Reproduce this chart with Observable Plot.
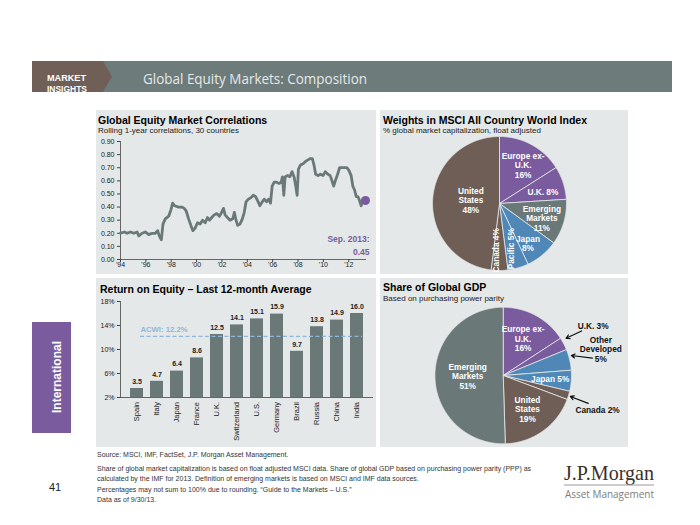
<!DOCTYPE html>
<html><head><meta charset="utf-8">
<script src="https://cdn.jsdelivr.net/npm/d3@7"></script>
<script src="https://cdn.jsdelivr.net/npm/@observablehq/plot@0.6"></script>
<style>
html,body{margin:0;padding:0;background:#fff;}
#page{position:relative;width:700px;height:525px;overflow:hidden;font-family:"Liberation Sans",Arial,sans-serif;}
.abs{position:absolute;}
.abs svg{overflow:visible;}
</style></head><body><div id="page">
<svg id="bg" width="700" height="525" style="position:absolute;left:0;top:0" font-family="Liberation Sans, Arial, sans-serif">
  <rect x="32" y="61" width="640" height="31" fill="#6e7b7b"/>
  <polygon points="32,61 103,61 112,76.5 103,92 32,92" fill="#6f5f56"/>
  <text x="47" y="80.5" font-weight="700" font-size="9" fill="#fff" textLength="39" lengthAdjust="spacingAndGlyphs">MARKET</text>
  <text x="47" y="91.5" font-weight="700" font-size="9" fill="#fff" textLength="40" lengthAdjust="spacingAndGlyphs">INSIGHTS</text>
  <text x="143" y="83.5" font-family="Open Sans" font-size="14.5" fill="#e4e9e9" textLength="224" lengthAdjust="spacingAndGlyphs">Global Equity Markets: Composition</text>

  <rect x="96" y="110" width="280" height="164" fill="#e4e8e8"/>
  <rect x="380" y="110" width="248" height="164" fill="#e4e8e8"/>
  <rect x="96" y="278" width="280" height="169" fill="#e4e8e8"/>
  <rect x="380" y="278" width="248" height="169" fill="#e4e8e8"/>

  <text x="98" y="124" font-weight="700" font-size="10.5" fill="#000">Global Equity Market Correlations</text>
  <text x="98" y="132.5" font-size="8" fill="#222">Rolling 1-year correlations, 30 countries</text>
  <text x="383" y="123.5" font-weight="700" font-size="10.5" fill="#000">Weights in MSCI All Country World Index</text>
  <text x="383" y="132.5" font-size="8" fill="#222">% global market capitalization, float adjusted</text>
  <text x="100" y="292.5" font-weight="700" font-size="10.5" fill="#000">Return on Equity – Last 12-month Average</text>
  <text x="383" y="290.5" font-weight="700" font-size="10.5" fill="#000">Share of Global GDP</text>
  <text x="383" y="300.5" font-size="8" fill="#222">Based on purchasing power parity</text>

  <rect x="32" y="322" width="39" height="111" fill="#7a5c9e"/>
  <text transform="translate(61,377) rotate(-90)" text-anchor="middle" font-weight="700" font-size="12" fill="#fff">International</text>
  <text x="49" y="491" font-size="11" fill="#222">41</text>

  <g font-size="7" fill="#333">
    <text x="97" y="457">Source: MSCI, IMF, FactSet, J.P. Morgan Asset Management.</text>
    <text x="97" y="470.5">Share of global market capitalization is based on float adjusted MSCI data. Share of global GDP based on purchasing power parity (PPP) as</text>
    <text x="97" y="481">calculated by the IMF for 2013. Definition of emerging markets is based on MSCI and IMF data sources.</text>
    <text x="97" y="491.5">Percentages may not sum to 100% due to rounding. “Guide to the Markets – U.S.”</text>
    <text x="97" y="502">Data as of 9/30/13.</text>
  </g>
  <text x="564" y="480" font-family="Liberation Serif, serif" font-size="22" fill="#3a302b" textLength="90" lengthAdjust="spacingAndGlyphs">J.P.Morgan</text>
  <line x1="564" x2="654" y1="485" y2="485" stroke="#9a9a9a" stroke-width="1"/>
  <text x="565" y="497.5" font-family="Open Sans" font-size="11" fill="#7d7d7d" textLength="89" lengthAdjust="spacingAndGlyphs">Asset Management</text>
</svg>
<div id="corr" class="abs" style="left:96px;top:135px"></div>
<div id="msci" class="abs" style="left:380px;top:135px"></div>
<div id="roe" class="abs" style="left:96px;top:296px"></div>
<div id="gdp" class="abs" style="left:380px;top:305px"></div>
</div>
<script>
// ---------- DATA ----------
const corrYears = [1994.00,1994.30,1994.52,1994.79,1995.05,1995.31,1995.44,1995.70,1995.96,1996.23,1996.49,1996.75,1996.93,1997.06,1997.22,1997.35,1997.53,1997.80,1997.98,1998.11,1998.27,1998.58,1998.84,1999.03,1999.18,1999.37,1999.55,1999.71,1999.89,2000.07,2000.28,2000.47,2000.68,2000.86,2001.02,2001.20,2001.38,2001.59,2001.80,2001.98,2002.12,2002.25,2002.43,2002.64,2002.85,2002.98,2003.11,2003.24,2003.42,2003.61,2003.76,2003.90,2004.08,2004.26,2004.47,2004.65,2004.81,2004.99,2005.18,2005.34,2005.52,2005.68,2005.83,2005.96,2006.12,2006.30,2006.51,2006.67,2006.77,2006.88,2006.98,2007.17,2007.35,2007.53,2007.69,2007.82,2007.93,2008.03,2008.19,2008.40,2008.61,2008.79,2008.97,2009.13,2009.26,2009.39,2009.58,2009.76,2009.97,2010.15,2010.36,2010.54,2010.68,2010.81,2010.94,2011.09,2011.28,2011.49,2011.67,2011.85,2012.01,2012.19,2012.32,2012.46,2012.59,2012.72,2012.85,2012.98,2013.11,2013.24,2013.32];
const corrValues = [0.20,0.21,0.20,0.21,0.20,0.21,0.18,0.20,0.21,0.19,0.20,0.20,0.22,0.18,0.15,0.27,0.31,0.33,0.38,0.43,0.41,0.40,0.40,0.39,0.37,0.31,0.26,0.22,0.24,0.28,0.27,0.30,0.28,0.32,0.30,0.32,0.34,0.35,0.33,0.36,0.39,0.34,0.32,0.30,0.31,0.36,0.30,0.26,0.27,0.31,0.36,0.44,0.46,0.47,0.49,0.48,0.45,0.41,0.44,0.46,0.44,0.46,0.43,0.56,0.59,0.59,0.58,0.59,0.63,0.49,0.63,0.64,0.63,0.67,0.63,0.56,0.49,0.69,0.72,0.73,0.75,0.76,0.77,0.77,0.72,0.65,0.64,0.65,0.64,0.67,0.65,0.64,0.60,0.56,0.60,0.64,0.70,0.70,0.70,0.70,0.68,0.64,0.56,0.53,0.48,0.48,0.45,0.41,0.46,0.45,0.45];
const corrTickYears = [1994,1996,1998,2000,2002,2004,2006,2008,2010,2012];
const corrYTicks = [0,0.1,0.2,0.3,0.4,0.5,0.6,0.7,0.8,0.9];
const corrNote = "Sep. 2013:";

const msciNames = ["Europe ex-U.K.","U.K.","Emerging Markets","Japan","Pacific","Canada","United States"];
const msciValues = [16,8,11,8,5,4,48];

const roeCountries = ["Spain","Italy","Japan","France","U.K.","Switzerland","U.S.","Germany","Brazil","Russia","China","India"];
const roeValues = [3.5,4.7,6.4,8.6,12.5,14.1,15.1,15.9,9.7,13.8,14.9,16.0];
const roeTicks = [2,6,10,14,18];
const acwiValue = 12.2;

const gdpNames = ["Europe ex-U.K.","U.K.","Other Developed","Japan","Canada","United States","Emerging Markets"];
const gdpValues = [16,3,5,5,2,19,51];

// ---------- STYLE ----------
const C = {purple:"#7a5c9e", blue:"#4f87b6", gray:"#6b7878", brown:"#6e5e55", line:"#6b7878", acwi:"#8cb8dc"};
const regionColor = {"Europe ex-U.K.":C.purple,"U.K.":C.purple,"Emerging Markets":C.gray,"Japan":C.blue,"Pacific":C.blue,"Other Developed":C.blue,"Canada":C.brown,"United States":C.brown};
const displayName = {"Europe ex-U.K.":"Europe ex-\nU.K.","Emerging Markets":"Emerging\nMarkets","United States":"United\nStates","Other Developed":"Other\nDeveloped","Japan":"Japan"};
const font = "Liberation Sans, Arial, sans-serif";
const deg = Math.PI/180;

// ---------- Correlations ----------
{
  const data = corrYears.map((x,i)=>({x, v: corrValues[i]}));
  const last = data[data.length-1];
  const chart = Plot.plot({
    width: 280, height: 139, marginLeft: 24, marginRight: 10, marginTop: 6, marginBottom: 15,
    style: {background:"transparent", fontFamily: font, fontSize:"7px", color:"#222", overflow:"visible"},
    x: {domain:[1994, 2013.4], label:null},
    y: {domain:[0,0.9], label:null},
    marks: [
      Plot.ruleX([1994], {stroke:"#444", strokeWidth:0.8}),
      Plot.ruleY([0], {stroke:"#444", strokeWidth:0.8}),
      Plot.axisX(corrTickYears, {tickFormat: d => "'" + String(d).slice(2), tickSize:3, tickPadding:0, fontSize:7, stroke:"#444"}),
      Plot.axisY(corrYTicks, {tickFormat: d3.format(".2f"), tickSize:3, tickPadding:3, fontSize:7, stroke:"#444"}),
      Plot.line(data, {x:"x", y:"v", stroke:C.line, strokeWidth:2.8, strokeLinejoin:"round"}),
      Plot.dot([last], {x:"x", y:"v", r:4.5, fill:C.purple}),
      Plot.text([last], {x:"x", y:"v", text: d => corrNote + "\n" + d.v.toFixed(2), textAnchor:"end", dx:4, dy:44, lineHeight:1.5, fontWeight:"bold", fontSize:8.5, fill:C.purple})
    ]
  });
  document.getElementById("corr").appendChild(chart);
}

// ---------- Pie helper ----------
function pieData(names, values) {
  const arcs = d3.pie().sort(null).value(d=>d)(values);
  const pts = [];
  arcs.forEach((a,i) => {
    const n = Math.max(2, Math.ceil((a.endAngle - a.startAngle)/0.01));
    const color = regionColor[names[i]];
    pts.push({slice:names[i], color, x:0, y:0});
    for (let k=0;k<=n;k++){
      const t = a.startAngle + (a.endAngle-a.startAngle)*k/n;
      pts.push({slice:names[i], color, x:Math.sin(t), y:Math.cos(t)});
    }
    pts.push({slice:names[i], color, x:0, y:0});
  });
  return {arcs, pts};
}
const polar = (a, k, shift = 0) => { const m = (a.startAngle + a.endAngle)/2 + shift*deg; return {x: k*Math.sin(m), y: k*Math.cos(m)}; };

// ---------- MSCI pie ----------
{
  const {arcs, pts} = pieData(msciNames, msciValues);
  const inside = [], rotated = [];
  arcs.forEach((a,i) => {
    const name = msciNames[i], v = msciValues[i];
    const pct = v + "%";
    if (v <= 5) { rotated.push({...polar(a, 0.70, name === "Canada" ? 4 : 1), text: name + " " + pct}); return; }
    const k = v > 40 ? 0.43 : (name === "Japan" ? 0.73 : 0.67);
    const label = name === "U.K." ? name + " " + pct : (displayName[name] || name) + "\n" + pct;
    inside.push({...polar(a, k, name === "Japan" ? 4 : 3), text: label});
  });
  const chart = Plot.plot({
    width: 248, height: 139, marginLeft: 52, marginRight: 62, marginTop: 1, marginBottom: 4,
    style: {background:"transparent", fontFamily: font, overflow:"visible"},
    x: {domain:[-1,1], axis:null}, y: {domain:[-1,1], axis:null},
    color: {type:"identity"},
    marks: [
      Plot.line(pts, {x:"x", y:"y", z:"slice", fill:"color", stroke:"#e6e8e8", strokeWidth:0.8}),
      Plot.text(inside, {x:"x", y:"y", text:"text", fill:"#fff", fontWeight:"bold", fontSize:8.3, lineHeight:1.15}),
      Plot.text(rotated, {x:"x", y:"y", text:"text", fill:"#fff", fontWeight:"bold", fontSize:8.3, rotate:-90})
    ]
  });
  document.getElementById("msci").appendChild(chart);
}

// ---------- ROE bars ----------
{
  const data = roeCountries.map((c,i)=>({country:c, value:roeValues[i]}));
  const chart = Plot.plot({
    width: 280, height: 151, marginLeft: 24, marginRight: 3, marginTop: 5, marginBottom: 50,
    style: {background:"transparent", fontFamily: font, fontSize:"7px", color:"#222", overflow:"visible"},
    x: {domain: roeCountries, paddingInner: 0.33, paddingOuter: 0.225, label:null},
    y: {domain: [roeTicks[0], roeTicks[roeTicks.length-1]], label:null},
    marks: [
      Plot.barY(data, {x:"country", y1: roeTicks[0], y2:"value", fill:C.gray}),
      Plot.frame({anchor:"left", stroke:"#444", strokeWidth:0.8}),
      Plot.ruleY([roeTicks[0]], {stroke:"#444", strokeWidth:0.8}),
      Plot.axisY(roeTicks, {tickFormat: d => d + "%", tickSize:3, tickPadding:3, fontSize:7, stroke:"#444"}),
      Plot.axisX({tickRotate:-90, tickSize:0, tickPadding:4.5, fontSize:7.5}),
      Plot.ruleY([acwiValue], {stroke:C.acwi, strokeWidth:1.3, strokeDasharray:"4,2.5", insetLeft:20, insetRight:11}),
      Plot.text([acwiValue], {y: d=>d, text: d => `ACWI: ${d}%`, frameAnchor:"left", textAnchor:"start", dx:20, dy:-7, fill:C.acwi, fontWeight:"bold", fontSize:7.7}),
      Plot.text(data, {x:"country", y:"value", text: d => d.value.toFixed(1), dy:-7, fontWeight:"bold", fontSize:7, fill:"#222"})
    ]
  });
  document.getElementById("roe").appendChild(chart);
}

// ---------- GDP pie ----------
{
  const {arcs, pts} = pieData(gdpNames, gdpValues);
  // layout of outside labels: [label angle shift, label radius, arrow-start shift, arrow-start radius, arrow-end shift, arrow-end radius]
  const outsideLayout = {"U.K.":[-1,1.50,-2,1.32,-3,1.07], "Other Developed":[-1.6,1.48,2.4,1.33,-3,1.04], "Canada":[3,1.47,1.2,1.31,0.4,1.03]};
  const inside = [], outside = [], arrows = [];
  arcs.forEach((a,i) => {
    const name = gdpNames[i], v = gdpValues[i], pct = v + "%";
    const L = outsideLayout[name];
    if (L) {
      const label = name === "Other Developed" ? displayName[name] + "\n" + pct : name + " " + pct;
      outside.push({...polar(a, L[1], L[0]), text: label});
      const p1 = polar(a, L[3], L[2]), p2 = polar(a, L[5], L[4]);
      arrows.push({x1:p1.x, y1:p1.y, x2:p2.x, y2:p2.y});
      return;
    }
    const k = v > 40 ? 0.52 : (name === "Japan" ? 0.69 : 0.61);
    const label = name === "Japan" ? name + " " + pct : (displayName[name] || name) + "\n" + pct;
    inside.push({...polar(a, k), text: label});
  });
  const chart = Plot.plot({
    width: 248, height: 142, marginLeft: 54.4, marginRight: 57, marginTop: 1.7, marginBottom: 3.7,
    style: {background:"transparent", fontFamily: font, overflow:"visible"},
    x: {domain:[-1,1], axis:null}, y: {domain:[-1,1], axis:null},
    color: {type:"identity"},
    marks: [
      Plot.line(pts, {x:"x", y:"y", z:"slice", fill:"color", stroke:"#e6e8e8", strokeWidth:0.8}),
      Plot.text(inside, {x:"x", y:"y", text:"text", fill:"#fff", fontWeight:"bold", fontSize:8.3, lineHeight:1.15}),
      Plot.text(outside, {x:"x", y:"y", text:"text", fill:"#111", fontWeight:"bold", fontSize:8.3, lineHeight:1.15}),
      Plot.arrow(arrows, {x1:"x1", y1:"y1", x2:"x2", y2:"y2", stroke:"#111", strokeWidth:1.2, headLength:5})
    ]
  });
  document.getElementById("gdp").appendChild(chart);
}
</script>
</body></html>
